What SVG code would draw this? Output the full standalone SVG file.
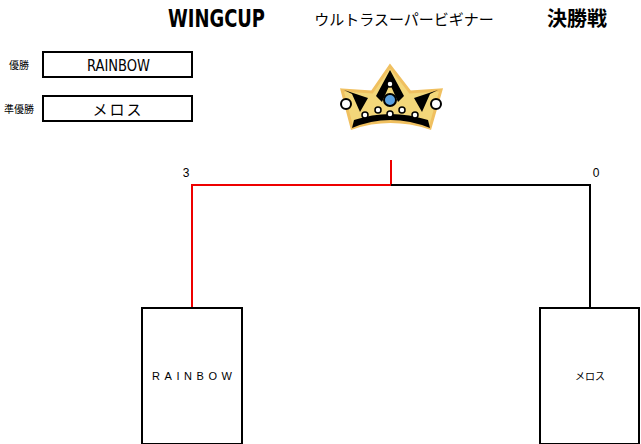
<svg xmlns="http://www.w3.org/2000/svg" width="641" height="444" viewBox="0 0 641 444">
<style>
.t{font-family:"Liberation Sans","Noto Sans CJK JP",sans-serif;fill:#000}
.box{fill:#fff;stroke:#000;stroke-width:2}
.ln{fill:none;stroke-width:2}
</style>
<rect width="641" height="444" fill="#fff"/>
<g id="title">
<text x="168" y="27" font-size="24" font-weight="bold" textLength="97" lengthAdjust="spacingAndGlyphs" style="font-family:'DejaVu Sans Condensed','Liberation Sans',sans-serif">WINGCUP</text>
<text class="t" x="404" y="25" font-size="15" text-anchor="middle">ウルトラスーパービギナー</text>
<text class="t" x="577" y="26" font-size="20" font-weight="bold" text-anchor="middle">決勝戦</text>
</g>
<g id="winner">
<text class="t" x="19" y="69" font-size="10" text-anchor="middle">優勝</text>
<rect class="box" x="43" y="52" width="149" height="25"/>
<text x="87" y="71" font-size="16" textLength="63" lengthAdjust="spacingAndGlyphs" style="font-family:'DejaVu Sans Condensed','Liberation Sans',sans-serif">RAINBOW</text>
</g>
<g id="runnerup">
<text class="t" x="19" y="113" font-size="10" text-anchor="middle">準優勝</text>
<rect class="box" x="43" y="96" width="149" height="25"/>
<text class="t" x="118" y="115" font-size="15" text-anchor="middle" letter-spacing="2">メロス</text>
</g>
<g id="crown">
<path d="M342 90 L372 92 L390 66 L410 92 L441 90 L430 128 Q390 115 352 128 Z" fill="#f3d77a" stroke="#f0c060" stroke-width="3"/>
<path d="M344 90 L368 98 L360 112 L352 94 Z M438 90 L414 98 L422 112 L430 94 Z M390 70 L376 96 L382 102 L390 84 L398 102 L404 96 Z" fill="#000"/>
<path d="M352 128 Q390 112 430 128 L428 120 Q390 108 354 120 Z" fill="#000"/>
<circle cx="346" cy="104" r="5" fill="#fff" stroke="#000" stroke-width="2"/>
<circle cx="436" cy="104" r="5" fill="#fff" stroke="#000" stroke-width="2"/>
<circle cx="390" cy="100" r="6" fill="#5aa0e0" stroke="#000" stroke-width="2"/>
<circle cx="390" cy="84" r="3" fill="#fff" stroke="#000" stroke-width="1.5"/>
<circle cx="365" cy="115" r="3" fill="#fff" stroke="#000" stroke-width="1.5"/>
<circle cx="415" cy="115" r="3" fill="#fff" stroke="#000" stroke-width="1.5"/>
<circle cx="378" cy="110" r="3" fill="#fff" stroke="#000" stroke-width="1.5"/>
<circle cx="402" cy="110" r="3" fill="#fff" stroke="#000" stroke-width="1.5"/>
<circle cx="390" cy="114" r="3" fill="#fff" stroke="#000" stroke-width="1.5"/>
</g>
<g id="connectors">
<path class="ln" stroke="#e00" d="M391 160 V185 H192 V308"/>
<path class="ln" stroke="#000" d="M391 185 H590 V308"/>
</g>
<text class="t" x="186" y="177" font-size="12" text-anchor="middle">3</text>
<text class="t" x="596" y="177" font-size="12" text-anchor="middle">0</text>
<g id="team1">
<rect class="box" x="142" y="308" width="100" height="136"/>
<text class="t" x="152" y="380" font-size="11" textLength="83" letter-spacing="3">RAINBOW</text>
</g>
<g id="team2">
<rect class="box" x="540" y="308" width="99" height="136"/>
<text class="t" x="590" y="380" font-size="10" text-anchor="middle">メロス</text>
</g>
</svg>
